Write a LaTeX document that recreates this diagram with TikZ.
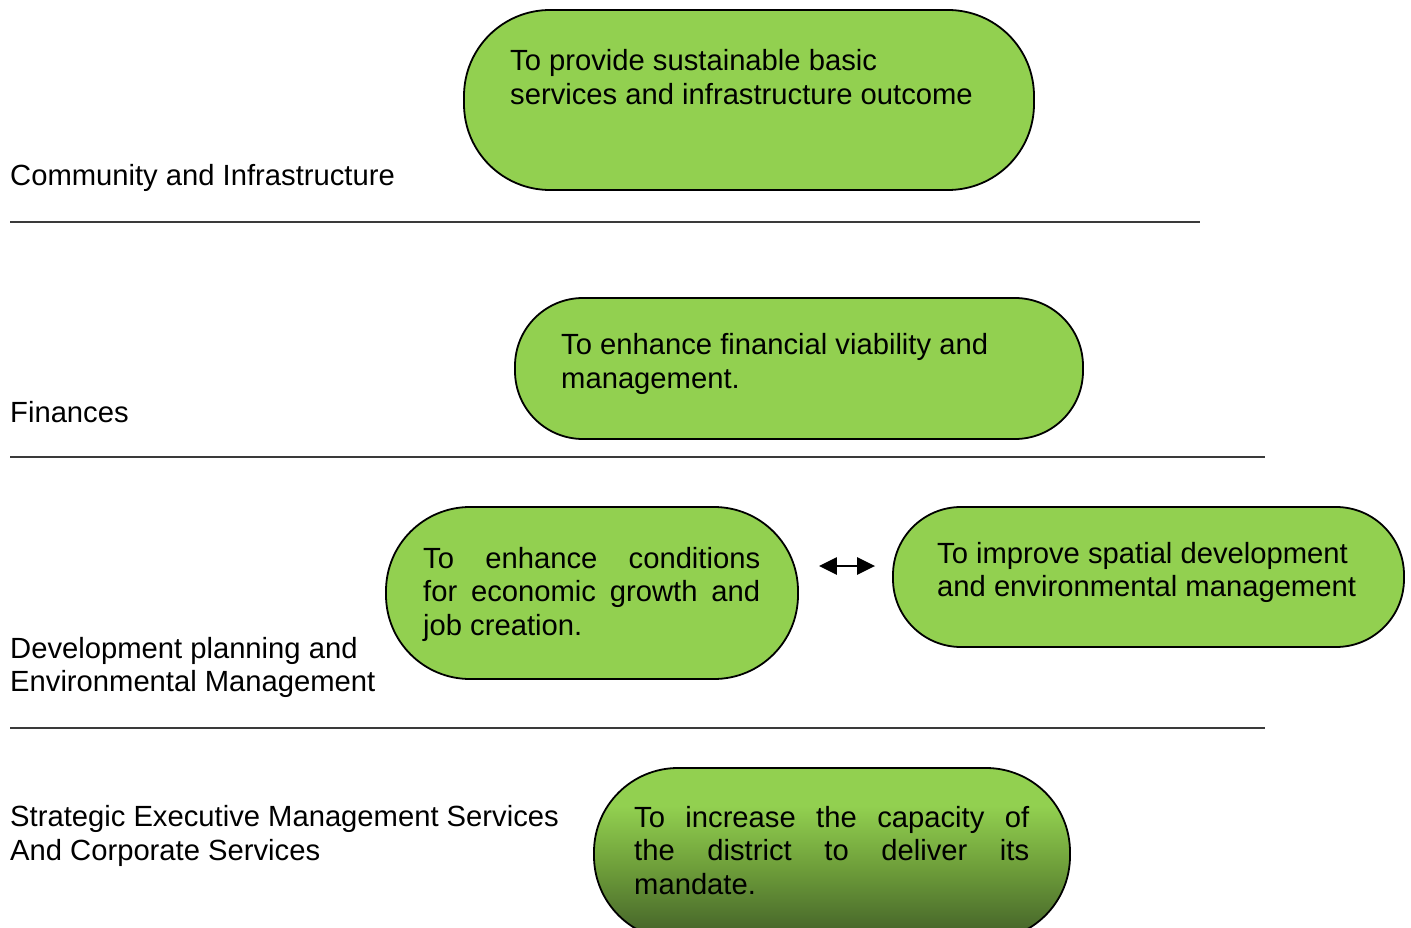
\documentclass[tikz,border=0pt]{standalone}
\usepackage{fontspec}
\setmainfont{Liberation Sans}
\usetikzlibrary{arrows.meta}
\definecolor{goalgreen}{HTML}{92D050}
\definecolor{midgoal}{HTML}{6E9E3A}
\definecolor{darkgoal}{HTML}{46652A}
\definecolor{rulegray}{HTML}{3A3A3A}
\pgfdeclareverticalshading{goalshade}{100bp}{color(0bp)=(darkgoal); color(27bp)=(darkgoal); color(46bp)=(midgoal); color(64bp)=(goalgreen); color(100bp)=(goalgreen)}
\begin{document}
\begin{tikzpicture}[x=1pt,y=-1pt,
  goal/.style={draw=black, line width=1.8pt, fill=goalgreen, inner sep=0pt},
  txt/.style={anchor=base west, inner sep=0pt, align=left, font=\fontsize{29.2pt}{33.5pt}\selectfont},
  rulel/.style={draw=rulegray, line width=2.6pt},
  both/.style={line width=2.4pt, {Triangle[length=18pt,width=17pt]}-{Triangle[length=18pt,width=17pt]}}
]
\useasboundingbox (0,0) rectangle (1411,928);

% goal shapes
\node[goal, minimum width=570pt, minimum height=180pt, rounded corners=86pt] (n1) at (749,100) {};
\node[goal, minimum width=568pt, minimum height=141pt, rounded corners=68pt] (n2) at (799,368.5) {};
\node[goal, minimum width=412pt, minimum height=172pt, rounded corners=84pt] (n3) at (592,593) {};
\node[goal, minimum width=511pt, minimum height=140pt, rounded corners=68pt] (n4) at (1148.5,577) {};
\node[goal, minimum width=476pt, minimum height=172pt, rounded corners=84pt,
      shading=goalshade] (n5) at (832,854) {};

% goal texts (anchor = baseline of the last line)
\node[txt] (t1) at (510,104.5) {To provide sustainable basic\\services and infrastructure outcome};
\node[txt] (t2) at (561,388) {To enhance financial viability and\\management.};
\node[txt] (t3) at (423,635) {\hbox to 337pt{To\hfill enhance\hfill conditions}\\\hbox to 337pt{for\hfill economic\hfill growth\hfill and}\\job creation.};
\node[txt] (t4) at (937,596.5) {To improve spatial development\\and environmental management};
\node[txt] (t5) at (634,894) {\hbox to 395pt{To\hfill increase\hfill the\hfill capacity\hfill of}\\\hbox to 395pt{the\hfill district\hfill to\hfill deliver\hfill its}\\mandate.};

% section labels
\node[txt] (l1) at (10,186) {Community and Infrastructure};
\node[txt] (l2) at (10,422) {Finances};
\node[txt] (l3) at (10,691.5) {Development planning and\\Environmental Management};
\node[txt] (l4) at (10,860) {Strategic Executive Management Services\\And Corporate Services};

% rules
\coordinate (r1a) at (10,222); \coordinate (r1b) at (1200,222);
\coordinate (r2a) at (10,457); \coordinate (r2b) at (1265,457);
\coordinate (r3a) at (10,728); \coordinate (r3b) at (1265,728);
\draw[rulel] (r1a) -- (r1b);
\draw[rulel] (r2a) -- (r2b);
\draw[rulel] (r3a) -- (r3b);

% double arrow
\coordinate (aL) at (n3.east |- 0,566);
\coordinate (aR) at (n4.west |- 0,566);
\draw[both, shorten <=20pt, shorten >=17pt] (aL) -- (aR);
\end{tikzpicture}
\end{document}
